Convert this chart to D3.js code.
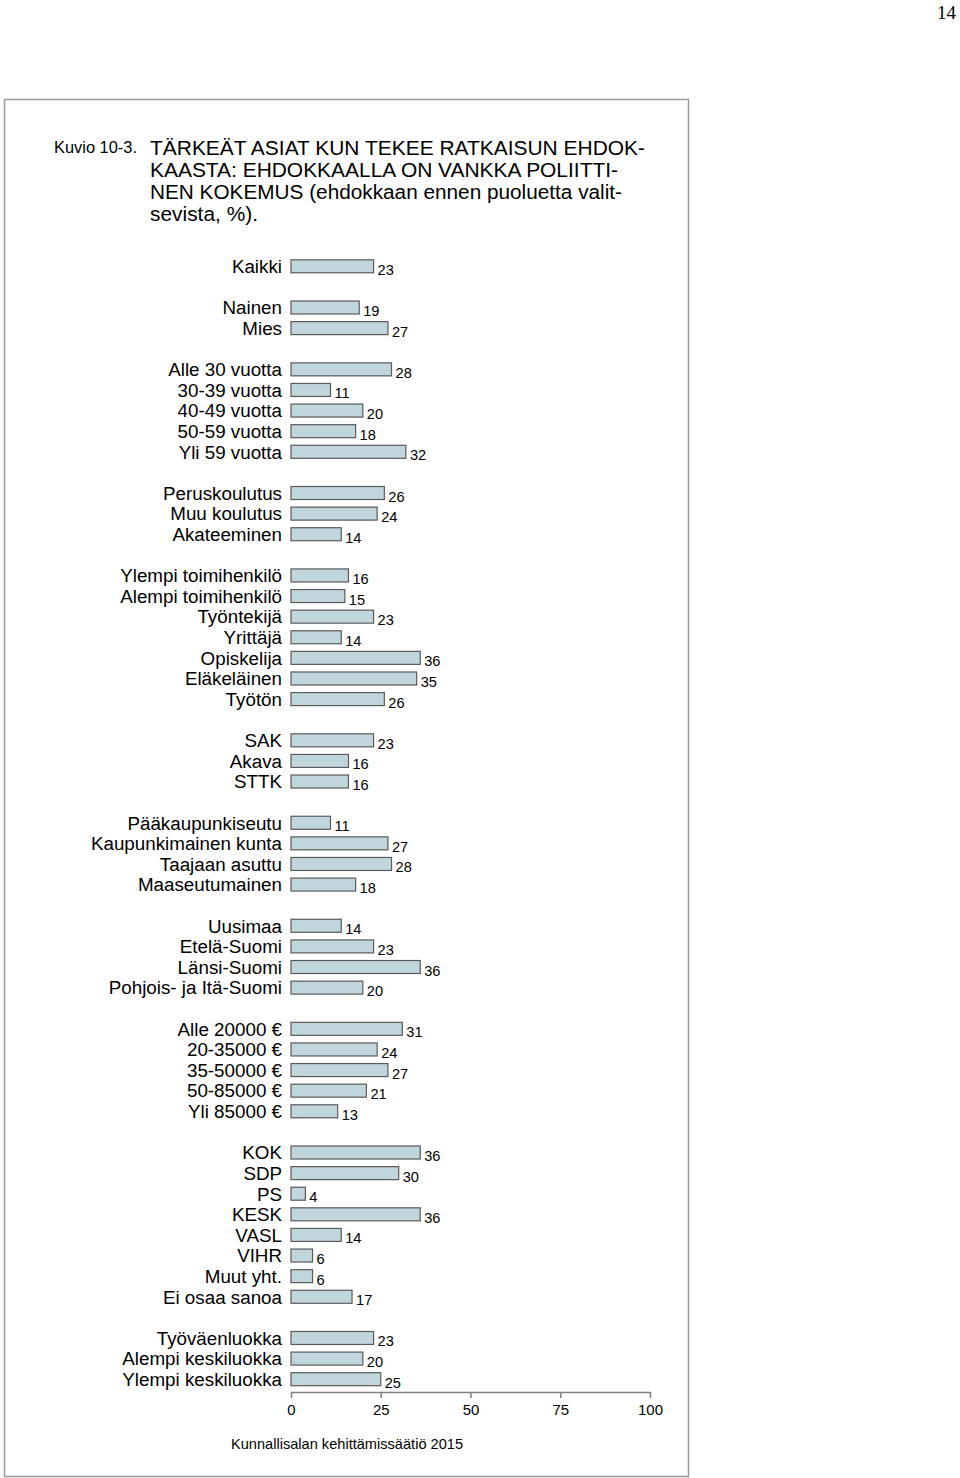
<!DOCTYPE html>
<html>
<head>
<meta charset="utf-8">
<script src="https://cdn.jsdelivr.net/npm/d3@7"></script>
<style>
  html, body { margin: 0; padding: 0; background: #fff; }
  svg { display: block; }
  text { font-family: "Liberation Sans", Arial, sans-serif; fill: #000; }
</style>
</head>
<body>
<svg id="chart" width="960" height="1478"></svg>
<script>
// ---- data ----
const categories = [
  "Kaikki",
  "Nainen", "Mies",
  "Alle 30 vuotta", "30-39 vuotta", "40-49 vuotta", "50-59 vuotta", "Yli 59 vuotta",
  "Peruskoulutus", "Muu koulutus", "Akateeminen",
  "Ylempi toimihenkilö", "Alempi toimihenkilö", "Työntekijä", "Yrittäjä", "Opiskelija", "Eläkeläinen", "Työtön",
  "SAK", "Akava", "STTK",
  "Pääkaupunkiseutu", "Kaupunkimainen kunta", "Taajaan asuttu", "Maaseutumainen",
  "Uusimaa", "Etelä-Suomi", "Länsi-Suomi", "Pohjois- ja Itä-Suomi",
  "Alle 20000 €", "20-35000 €", "35-50000 €", "50-85000 €", "Yli 85000 €",
  "KOK", "SDP", "PS", "KESK", "VASL", "VIHR", "Muut yht.", "Ei osaa sanoa",
  "Työväenluokka", "Alempi keskiluokka", "Ylempi keskiluokka"
];
const values = [
  23,
  19, 27,
  28, 11, 20, 18, 32,
  26, 24, 14,
  16, 15, 23, 14, 36, 35, 26,
  23, 16, 16,
  11, 27, 28, 18,
  14, 23, 36, 20,
  31, 24, 27, 21, 13,
  36, 30, 4, 36, 14, 6, 6, 17,
  23, 20, 25
];
const groupSizes = [1, 2, 5, 3, 7, 3, 4, 4, 5, 8, 3];
const tickValues = [0, 25, 50, 75, 100];
const titleLines = [
  "TÄRKEÄT ASIAT KUN TEKEE RATKAISUN EHDOK-",
  "KAASTA: EHDOKKAALLA ON VANKKA POLIITTI-",
  "NEN KOKEMUS (ehdokkaan ennen puoluetta valit-",
  "sevista, %)."
];
const titleWidths = [495, 468, 472, 108];
const figureLabel = "Kuvio 10-3.";
const sourceText = "Kunnallisalan kehittämissäätiö 2015";
const pageNumber = "14";

// ---- build rows (blank row between groups) ----
const rows = [];
let idx = 0, row = 0;
groupSizes.forEach((n) => {
  for (let i = 0; i < n; i++) {
    rows.push({ label: categories[idx], value: values[idx], row: row });
    idx++; row++;
  }
  row++; // blank row
});
const lastRow = rows[rows.length - 1].row;

const svg = d3.select("#chart");

// page number
svg.append("text")
  .attr("x", 956).attr("y", 19)
  .attr("text-anchor", "end")
  .style("font-family", "'Liberation Serif', 'Times New Roman', serif")
  .style("font-size", "19px")
  .text(pageNumber);

// frame
svg.append("rect")
  .attr("x", 4.5).attr("y", 99.5)
  .attr("width", 684).attr("height", 1377)
  .attr("fill", "none")
  .attr("stroke", "#9a9a9a")
  .attr("stroke-width", 1.5);

// figure label
svg.append("text")
  .attr("x", 54).attr("y", 153)
  .style("font-size", "16px")
  .attr("textLength", 83)
  .attr("lengthAdjust", "spacingAndGlyphs")
  .text(figureLabel);

// title
titleLines.forEach((t, i) => {
  svg.append("text")
    .attr("x", 150).attr("y", 154.5 + i * 22.3)
    .style("font-size", "20.5px")
    .attr("textLength", titleWidths[i])
    .attr("lengthAdjust", "spacingAndGlyphs")
    .text(t);
});

// scales
const x = d3.scaleLinear().domain([0, 100]).range([291, 650]);
const y = d3.scaleLinear().domain([0, lastRow]).range([266.3, 1379.2]);
const barH = 13;

const g = svg.append("g");

// category labels
g.selectAll("text.cat").data(rows).join("text")
  .attr("class", "cat")
  .attr("x", 282)
  .attr("y", d => y(d.row) + 6.8)
  .attr("text-anchor", "end")
  .style("font-size", "18.8px")
  .text(d => d.label);

// bars
g.selectAll("rect.bar").data(rows).join("rect")
  .attr("class", "bar")
  .attr("x", x(0))
  .attr("y", d => y(d.row) - barH / 2)
  .attr("width", d => x(d.value) - x(0))
  .attr("height", barH)
  .attr("fill", "#c0d6dc")
  .attr("stroke", "#5a5a5a")
  .attr("stroke-width", 1.2);

// value labels
g.selectAll("text.val").data(rows).join("text")
  .attr("class", "val")
  .attr("x", d => x(d.value) + 4)
  .attr("y", d => y(d.row) + barH / 2 + 2)
  .style("font-size", "14.6px")
  .text(d => d.value);

// axis
const axisY = 1392;
const axis = svg.append("g")
  .attr("transform", `translate(0,${axisY})`)
  .call(d3.axisBottom(x).tickValues(tickValues).tickSize(6).tickSizeOuter(0).tickFormat(d3.format("d")));
axis.select(".domain").attr("stroke", "#808080").attr("stroke-width", 1.5);
axis.selectAll(".tick line").attr("stroke", "#808080").attr("stroke-width", 1.5);
axis.selectAll(".tick text")
  .attr("y", 12)
  .attr("dy", "0.71em")
  .style("font-family", "'Liberation Sans', Arial, sans-serif")
  .style("font-size", "15px")
  .attr("fill", "#000");

// source
svg.append("text")
  .attr("x", 231).attr("y", 1448.5)
  .style("font-size", "14.6px")
  .text(sourceText);
</script>
</body>
</html>
